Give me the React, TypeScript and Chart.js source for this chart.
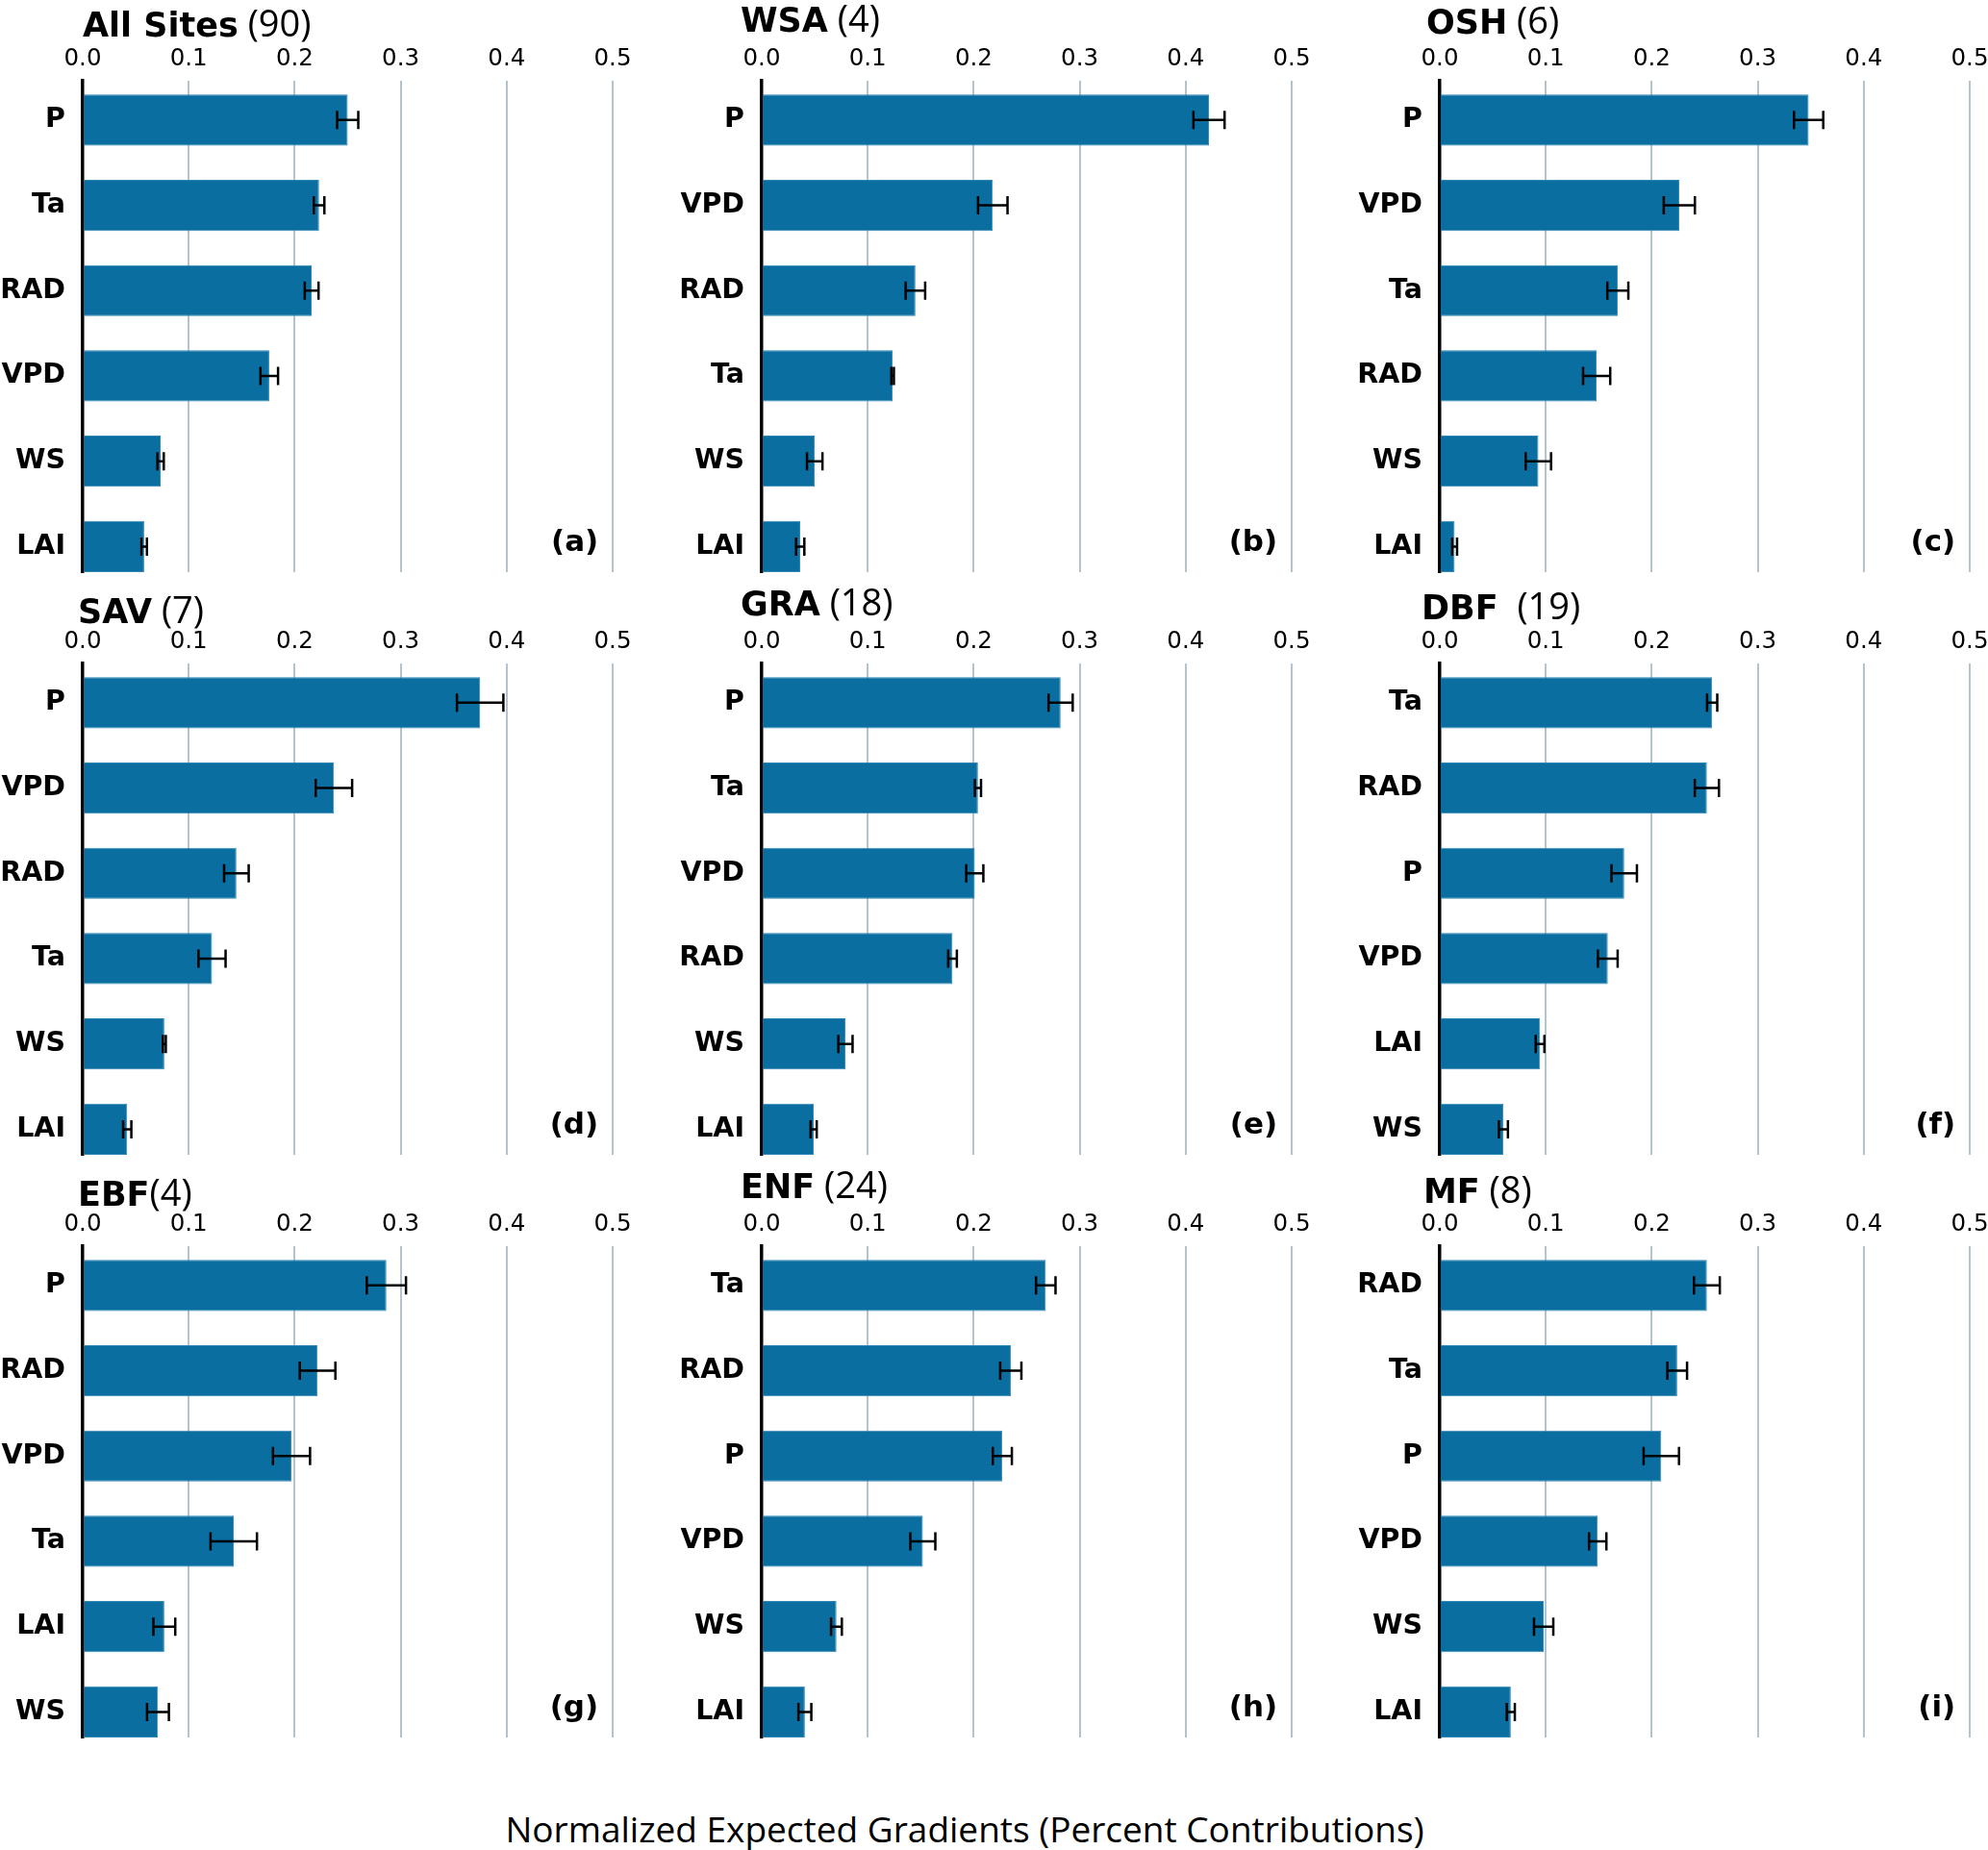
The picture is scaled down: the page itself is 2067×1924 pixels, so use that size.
import React, { useEffect, useRef } from "react";
import { Chart, registerables } from "chart.js";
Chart.register(...registerables);

// ---------- data ----------
const allSitesLabels = ["P", "Ta", "RAD", "VPD", "WS", "LAI"];
const allSitesValues = [0.25, 0.223, 0.216, 0.176, 0.0735, 0.058];
const allSitesErrors = [0.01, 0.005, 0.0065, 0.0083, 0.003, 0.0026];

const wsaLabels = ["P", "VPD", "RAD", "Ta", "WS", "LAI"];
const wsaValues = [0.422, 0.218, 0.145, 0.1235, 0.05, 0.0363];
const wsaErrors = [0.0147, 0.0139, 0.0092, 0.0012, 0.0073, 0.0039];

const oshLabels = ["P", "VPD", "Ta", "RAD", "WS", "LAI"];
const oshValues = [0.348, 0.226, 0.168, 0.148, 0.093, 0.014];
const oshErrors = [0.0138, 0.0147, 0.0099, 0.0128, 0.012, 0.0023];

const savLabels = ["P", "VPD", "RAD", "Ta", "WS", "LAI"];
const savValues = [0.375, 0.237, 0.145, 0.122, 0.077, 0.042];
const savErrors = [0.0219, 0.0172, 0.0116, 0.0128, 0.0014, 0.0039];

const graLabels = ["P", "Ta", "VPD", "RAD", "WS", "LAI"];
const graValues = [0.282, 0.204, 0.201, 0.18, 0.079, 0.049];
const graErrors = [0.0114, 0.0029, 0.0081, 0.0041, 0.0067, 0.0029];

const dbfLabels = ["Ta", "RAD", "P", "VPD", "LAI", "WS"];
const dbfValues = [0.257, 0.252, 0.174, 0.1585, 0.0946, 0.06];
const dbfErrors = [0.0048, 0.0114, 0.012, 0.0093, 0.0041, 0.0043];

const ebfLabels = ["P", "RAD", "VPD", "Ta", "LAI", "WS"];
const ebfValues = [0.2865, 0.2216, 0.197, 0.1425, 0.077, 0.071];
const ebfErrors = [0.0185, 0.0168, 0.0175, 0.0219, 0.0103, 0.0103];

const enfLabels = ["Ta", "RAD", "P", "VPD", "WS", "LAI"];
const enfValues = [0.268, 0.235, 0.227, 0.152, 0.0705, 0.0407];
const enfErrors = [0.0092, 0.01, 0.009, 0.0118, 0.0051, 0.0061];

const mfLabels = ["RAD", "Ta", "P", "VPD", "WS", "LAI"];
const mfValues = [0.252, 0.224, 0.209, 0.149, 0.098, 0.067];
const mfErrors = [0.0122, 0.0093, 0.0167, 0.0082, 0.0091, 0.0038];

const xTicks = [0, 0.1, 0.2, 0.3, 0.4, 0.5];
const xAxisTitle = "Normalized Expected Gradients (Percent Contributions)";

const panels = [
  { bold: "All Sites", normal: " (90)", tag: "(a)", labels: allSitesLabels, values: allSitesValues, errors: allSitesErrors },
  { bold: "WSA", normal: " (4)", tag: "(b)", labels: wsaLabels, values: wsaValues, errors: wsaErrors },
  { bold: "OSH", normal: " (6)", tag: "(c)", labels: oshLabels, values: oshValues, errors: oshErrors },
  { bold: "SAV", normal: " (7)", tag: "(d)", labels: savLabels, values: savValues, errors: savErrors },
  { bold: "GRA", normal: " (18)", tag: "(e)", labels: graLabels, values: graValues, errors: graErrors },
  { bold: "DBF", normal: "  (19)", tag: "(f)", labels: dbfLabels, values: dbfValues, errors: dbfErrors },
  { bold: "EBF", normal: "(4)", tag: "(g)", labels: ebfLabels, values: ebfValues, errors: ebfErrors },
  { bold: "ENF", normal: " (24)", tag: "(h)", labels: enfLabels, values: enfValues, errors: enfErrors },
  { bold: "MF", normal: " (8)", tag: "(i)", labels: mfLabels, values: mfValues, errors: mfErrors },
];

// ---------- layout / style ----------
const COL_ZERO = [86, 792, 1497];
const ROW_TOP = [84, 690, 1296];
const TITLE_SHIFT = [
  [0, -46.5], [-22, -51], [-14, -49],
  [-5, -42], [-22, -50.5], [-19, -45.7],
  [-5, -41.8], [-22, -49.7], [-17, -45],
];
const Y_AXIS_W = 86;
const PLOT_W = 551;
const PLOT_H = 511;
const PAD_TOP = 44;
const X_AXIS_H = 40;
const PAD_RIGHT = 22;
const PAD_BOTTOM = 6;
const CANVAS_W = Y_AXIS_W + PLOT_W + PAD_RIGHT;
const CANVAS_H = PAD_TOP + X_AXIS_H + PLOT_H + PAD_BOTTOM;
const TAG_POS = 0.4866;

const BAR = "#0a6ea0";
const BAR_EDGE = "#2f87b6";
const GRID = "#b4c4cf";

function Panel({ p, idx }: { p: any; idx: number }) {
  const ref = useRef<HTMLCanvasElement>(null);
  useEffect(() => {
    const errorBars = {
      id: "errorBars" + idx,
      afterDatasetsDraw(chart: any) {
        const { ctx } = chart;
        const xs = chart.scales.x;
        const ys = chart.scales.y;
        ctx.save();
        ctx.strokeStyle = "#000";
        ctx.lineWidth = 2.5;
        p.values.forEach((v: number, i: number) => {
          const e = p.errors[i];
          const y = ys.getPixelForValue(i);
          const x1 = xs.getPixelForValue(v - e);
          const x2 = xs.getPixelForValue(v + e);
          const cap = 9.5;
          ctx.beginPath();
          ctx.moveTo(x1, y);
          ctx.lineTo(x2, y);
          ctx.moveTo(x1, y - cap);
          ctx.lineTo(x1, y + cap);
          ctx.moveTo(x2, y - cap);
          ctx.lineTo(x2, y + cap);
          ctx.stroke();
        });
        ctx.restore();
      },
    };
    const decorations = {
      id: "decor" + idx,
      afterDraw(chart: any) {
        const { ctx, chartArea } = chart;
        const [dx, dy] = TITLE_SHIFT[idx];
        ctx.save();
        ctx.fillStyle = "#000";
        ctx.textBaseline = "alphabetic";
        ctx.textAlign = "left";
        ctx.font = 'bold 35px "DejaVu Sans"';
        const tx = chartArea.left + dx;
        const ty = chartArea.top + dy;
        ctx.fillText(p.bold, tx, ty);
        const w = ctx.measureText(p.bold).width;
        ctx.font = '38px "Open Sans"';
        ctx.fillText(p.normal, tx + w, ty);
        // panel tag
        ctx.font = 'bold 31px "DejaVu Sans"';
        ctx.textAlign = "right";
        ctx.textBaseline = "middle";
        ctx.fillText(
          p.tag,
          chart.scales.x.getPixelForValue(TAG_POS),
          chart.scales.y.getPixelForValue(p.labels.length - 1) - 3
        );
        ctx.restore();
      },
    };
    const chart = new Chart(ref.current as HTMLCanvasElement, {
      type: "bar",
      data: {
        datasets: [
          {
            data: p.values.map((v: number, i: number) => ({ x: v, y: i })),
            backgroundColor: BAR,
            borderColor: BAR_EDGE,
            borderWidth: 1,
            barPercentage: 0.6,
            categoryPercentage: 1,
          },
        ],
      },
      options: {
        indexAxis: "y",
        responsive: false,
        animation: false,
        devicePixelRatio: 1,
        layout: { padding: { top: PAD_TOP, left: 0, right: PAD_RIGHT, bottom: PAD_BOTTOM } },
        plugins: { legend: { display: false }, tooltip: { enabled: false }, title: { display: false } },
        scales: {
          x: {
            type: "linear",
            position: "top",
            min: 0,
            max: 0.5,
            bounds: "data",
            afterFit: (s: any) => {
              s.height = X_AXIS_H;
              s.paddingLeft = 0;
              s.paddingRight = 0;
            },
            afterBuildTicks: (s: any) => {
              s.ticks = xTicks.map((v) => ({ value: v }));
            },
            grid: {
              color: (c: any) => (c.tick && c.tick.value === 0 ? "rgba(0,0,0,0)" : GRID),
              lineWidth: 2,
              drawTicks: false,
            },
            border: { display: false },
            ticks: {
              padding: 8,
              maxRotation: 0,
              autoSkip: false,
              color: "#000",
              font: { family: "DejaVu Sans", size: 24.5 },
              callback: (v: any) => Number(v).toFixed(1),
            },
          },
          y: {
            type: "linear",
            reverse: true,
            min: -0.46,
            max: 5.3,
            bounds: "data",
            offset: false,
            z: 1,
            afterFit: (s: any) => {
              s.width = Y_AXIS_W;
              s.paddingTop = 0;
              s.paddingBottom = 0;
            },
            afterBuildTicks: (s: any) => {
              s.ticks = p.labels.map((_: string, i: number) => ({ value: i }));
            },
            grid: { display: false, drawTicks: false },
            border: { display: true, color: "#000", width: 3.5 },
            ticks: {
              padding: 18,
              autoSkip: false,
              color: "#000",
              font: { family: "DejaVu Sans", size: 28.5, weight: "bold" },
              callback: (v: any) => p.labels[Math.round(Number(v))] ?? "",
            },
          },
        },
      } as any,
      plugins: [errorBars, decorations],
    });
    return () => chart.destroy();
  }, []);
  const col = idx % 3;
  const row = Math.floor(idx / 3);
  return (
    <canvas
      ref={ref}
      width={CANVAS_W}
      height={CANVAS_H}
      style={{
        position: "absolute",
        left: COL_ZERO[col] - Y_AXIS_W,
        top: ROW_TOP[row] - PAD_TOP - X_AXIS_H,
        width: CANVAS_W,
        height: CANVAS_H,
      }}
    />
  );
}

export default function App() {
  return (
    <div
      style={{
        position: "absolute",
        left: 0,
        top: 0,
        width: 2067,
        height: 1924,
        overflow: "hidden",
        background: "#fff",
      }}
    >
      {panels.map((p, i) => (
        <Panel key={i} p={p} idx={i} />
      ))}
      <div
        style={{
          position: "absolute",
          left: 0,
          top: 1883,
          width: 2006,
          textAlign: "center",
          font: '37px "Open Sans"',
          lineHeight: "37px",
          color: "#000",
          whiteSpace: "nowrap",
        }}
      >
        {xAxisTitle}
      </div>
    </div>
  );
}
